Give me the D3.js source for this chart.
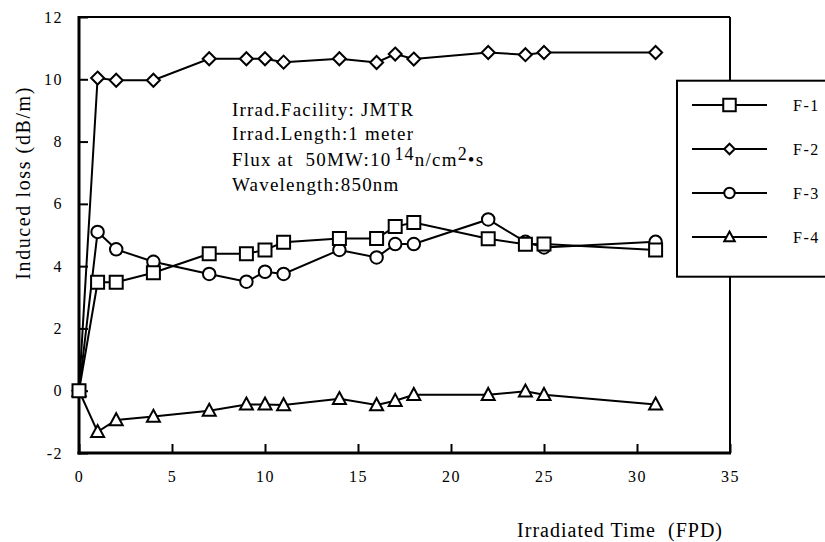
<!DOCTYPE html>
<html>
<head>
<meta charset="utf-8">
<script src="https://cdn.jsdelivr.net/npm/d3@7"></script>
<style>
  html, body { margin: 0; padding: 0; background: #fff; }
  svg { display: block; }
  svg text { font-family: "Liberation Serif", "DejaVu Serif", serif; fill: #000; }
</style>
</head>
<body>
<svg id="chart" width="825" height="542"></svg>
<script>
// irradiation days (FPD), shared by all fibres
const times = [0, 1, 2, 4, 7, 9, 10, 11, 14, 16, 17, 18, 22, 24, 25, 31];

// induced loss (dB/m)
const lossF1 = [0, 3.48, 3.48, 3.79, 4.40, 4.40, 4.52, 4.77, 4.89, 4.89, 5.27, 5.40, 4.88, 4.70, 4.71, 4.52];
const lossF2 = [0, 10.04, 9.97, 9.97, 10.66, 10.66, 10.66, 10.55, 10.66, 10.54, 10.81, 10.65, 10.86, 10.79, 10.86, 10.86];
const lossF3 = [0, 5.10, 4.54, 4.14, 3.75, 3.50, 3.82, 3.75, 4.52, 4.28, 4.71, 4.71, 5.50, 4.78, 4.60, 4.78];
const lossF4 = [0, -1.32, -0.94, -0.83, -0.64, -0.44, -0.44, -0.46, -0.26, -0.46, -0.32, -0.13, -0.13, -0.02, -0.13, -0.44];

const seriesNames = ["F-1", "F-2", "F-3", "F-4"];
const seriesShapes = ["square", "diamond", "circle", "triangle"];
const xTicks = [0, 5, 10, 15, 20, 25, 30, 35];
const yTicks = [-2, 0, 2, 4, 6, 8, 10, 12];

const series = [lossF1, lossF2, lossF3, lossF4].map((vals, i) => ({
    name: seriesNames[i],
    shape: seriesShapes[i],
    points: vals.map((v, j) => ({t: times[j], v: v}))
}));

const svg = d3.select("#chart");
const plotL = 79, plotR = 730, plotT = 17, plotB = 453;
const serif = "'Liberation Serif', 'DejaVu Serif', serif";

const x = d3.scaleLinear().domain([0, 35]).range([plotL, plotR]);
const y = d3.scaleLinear().domain([-2, 12]).range([plotB, plotT]);

// marker paths centred on 0,0
function markerPath(shape, s) {
    const h = s / 2;
    if (shape === "square") return `M${-h},${-h}H${h}V${h}H${-h}Z`;
    if (shape === "diamond") return `M0,${-h}L${h},0L0,${h}L${-h},0Z`;
    if (shape === "circle") return d3.symbol(d3.symbolCircle, Math.PI * h * h)();
    // triangle
    return `M0,${-h * 1.05}L${h},${h * 0.8}L${-h},${h * 0.8}Z`;
}
const markerSize = {square: 13, diamond: 13, circle: 12.5, triangle: 13};

// axes with ticks pointing inward, plain hyphen for negatives
const xAxis = svg.append("g")
    .attr("transform", `translate(0,${plotB})`)
    .call(d3.axisBottom(x).tickValues(xTicks).tickFormat(d => String(d))
        .tickSizeInner(-9).tickSizeOuter(0).tickPadding(24));
const yAxis = svg.append("g")
    .attr("transform", `translate(${plotL},0)`)
    .call(d3.axisLeft(y).tickValues(yTicks).tickFormat(d => String(d))
        .tickSizeInner(-9).tickSizeOuter(0).tickPadding(16));

[xAxis, yAxis].forEach(ax => {
    ax.attr("font-family", serif);
    ax.select(".domain").remove();
    ax.selectAll(".tick line").attr("stroke", "#000").attr("stroke-width", 2);
    ax.selectAll(".tick text")
        .attr("fill", "#000")
        .attr("font-family", serif)
        .style("font-size", "16px")
        .style("letter-spacing", "1.5px");
});
xAxis.selectAll(".tick text").attr("dy", "0.32em");

// frame
svg.append("line").attr("x1", plotL).attr("x2", plotR).attr("y1", plotT).attr("y2", plotT)
    .attr("stroke", "#000").attr("stroke-width", 2);
svg.append("line").attr("x1", plotR).attr("x2", plotR).attr("y1", plotT).attr("y2", plotB)
    .attr("stroke", "#000").attr("stroke-width", 2);
svg.append("line").attr("x1", plotL).attr("x2", plotL).attr("y1", plotT - 1).attr("y2", plotB + 1.5)
    .attr("stroke", "#000").attr("stroke-width", 3);
svg.append("line").attr("x1", plotL - 1.5).attr("x2", plotR + 1).attr("y1", plotB).attr("y2", plotB)
    .attr("stroke", "#000").attr("stroke-width", 3);

// series, drawn so squares end up on top
const line = d3.line().x(d => x(d.t)).y(d => y(d.v));
series.slice().reverse().forEach(s => {
    const g = svg.append("g");
    g.append("path")
        .attr("d", line(s.points))
        .attr("fill", "none")
        .attr("stroke", "#000")
        .attr("stroke-width", 2);
    g.selectAll("path.mk")
        .data(s.points)
        .join("path")
        .attr("class", "mk")
        .attr("transform", d => `translate(${x(d.t)},${y(d.v)})`)
        .attr("d", markerPath(s.shape, markerSize[s.shape]))
        .attr("fill", "#fff")
        .attr("stroke", "#000")
        .attr("stroke-width", 2);
});

// annotation block
function noteLine(yy) {
    return svg.append("text")
        .attr("x", 232).attr("y", yy)
        .style("font-size", "19px")
        .style("letter-spacing", "1.2px");
}
noteLine(116).text("Irrad.Facility: JMTR");
noteLine(140).text("Irrad.Length:1 meter");
const flux = noteLine(166);
flux.append("tspan").text("Flux at\u00a0\u00a050MW:10");
flux.append("tspan").attr("dx", 3).attr("dy", -6).style("font-size", "18px").text("14");
flux.append("tspan").attr("dy", 6).text("n/cm");
flux.append("tspan").attr("dy", -6).style("font-size", "18px").text("2");
flux.append("tspan").attr("dy", 6).text("\u2022s");
noteLine(191).text("Wavelength:850nm");

// axis titles
svg.append("text")
    .attr("transform", "translate(30,86) rotate(-90)")
    .attr("text-anchor", "end")
    .style("font-size", "20px")
    .style("letter-spacing", "1.6px")
    .text("Induced loss (dB/m)");
svg.append("text")
    .attr("x", 723).attr("y", 537)
    .attr("text-anchor", "end")
    .style("font-size", "20px")
    .style("letter-spacing", "1px")
    .text("Irradiated Time\u00a0\u00a0(FPD)");

// legend box, runs off the right edge
const legend = svg.append("g");
legend.append("rect")
    .attr("x", 677).attr("y", 80.7).attr("width", 160).attr("height", 196)
    .attr("fill", "#fff").attr("stroke", "#000").attr("stroke-width", 2);
const rowY = d3.scalePoint().domain(seriesNames).range([105, 237]);
series.forEach(s => {
    const ry = rowY(s.name);
    legend.append("line").attr("x1", 692).attr("x2", 767).attr("y1", ry).attr("y2", ry)
        .attr("stroke", "#000").attr("stroke-width", 2);
    legend.append("path")
        .attr("transform", `translate(729.5,${ry})`)
        .attr("d", markerPath(s.shape, s.shape === "square" ? 12.5 : 10.5))
        .attr("fill", "#fff").attr("stroke", "#000").attr("stroke-width", 2);
    legend.append("text")
        .attr("x", 793).attr("y", ry).attr("dy", "0.35em")
        .style("font-size", "16px")
        .style("letter-spacing", "1.5px")
        .text(s.name);
});
</script>
</body>
</html>
